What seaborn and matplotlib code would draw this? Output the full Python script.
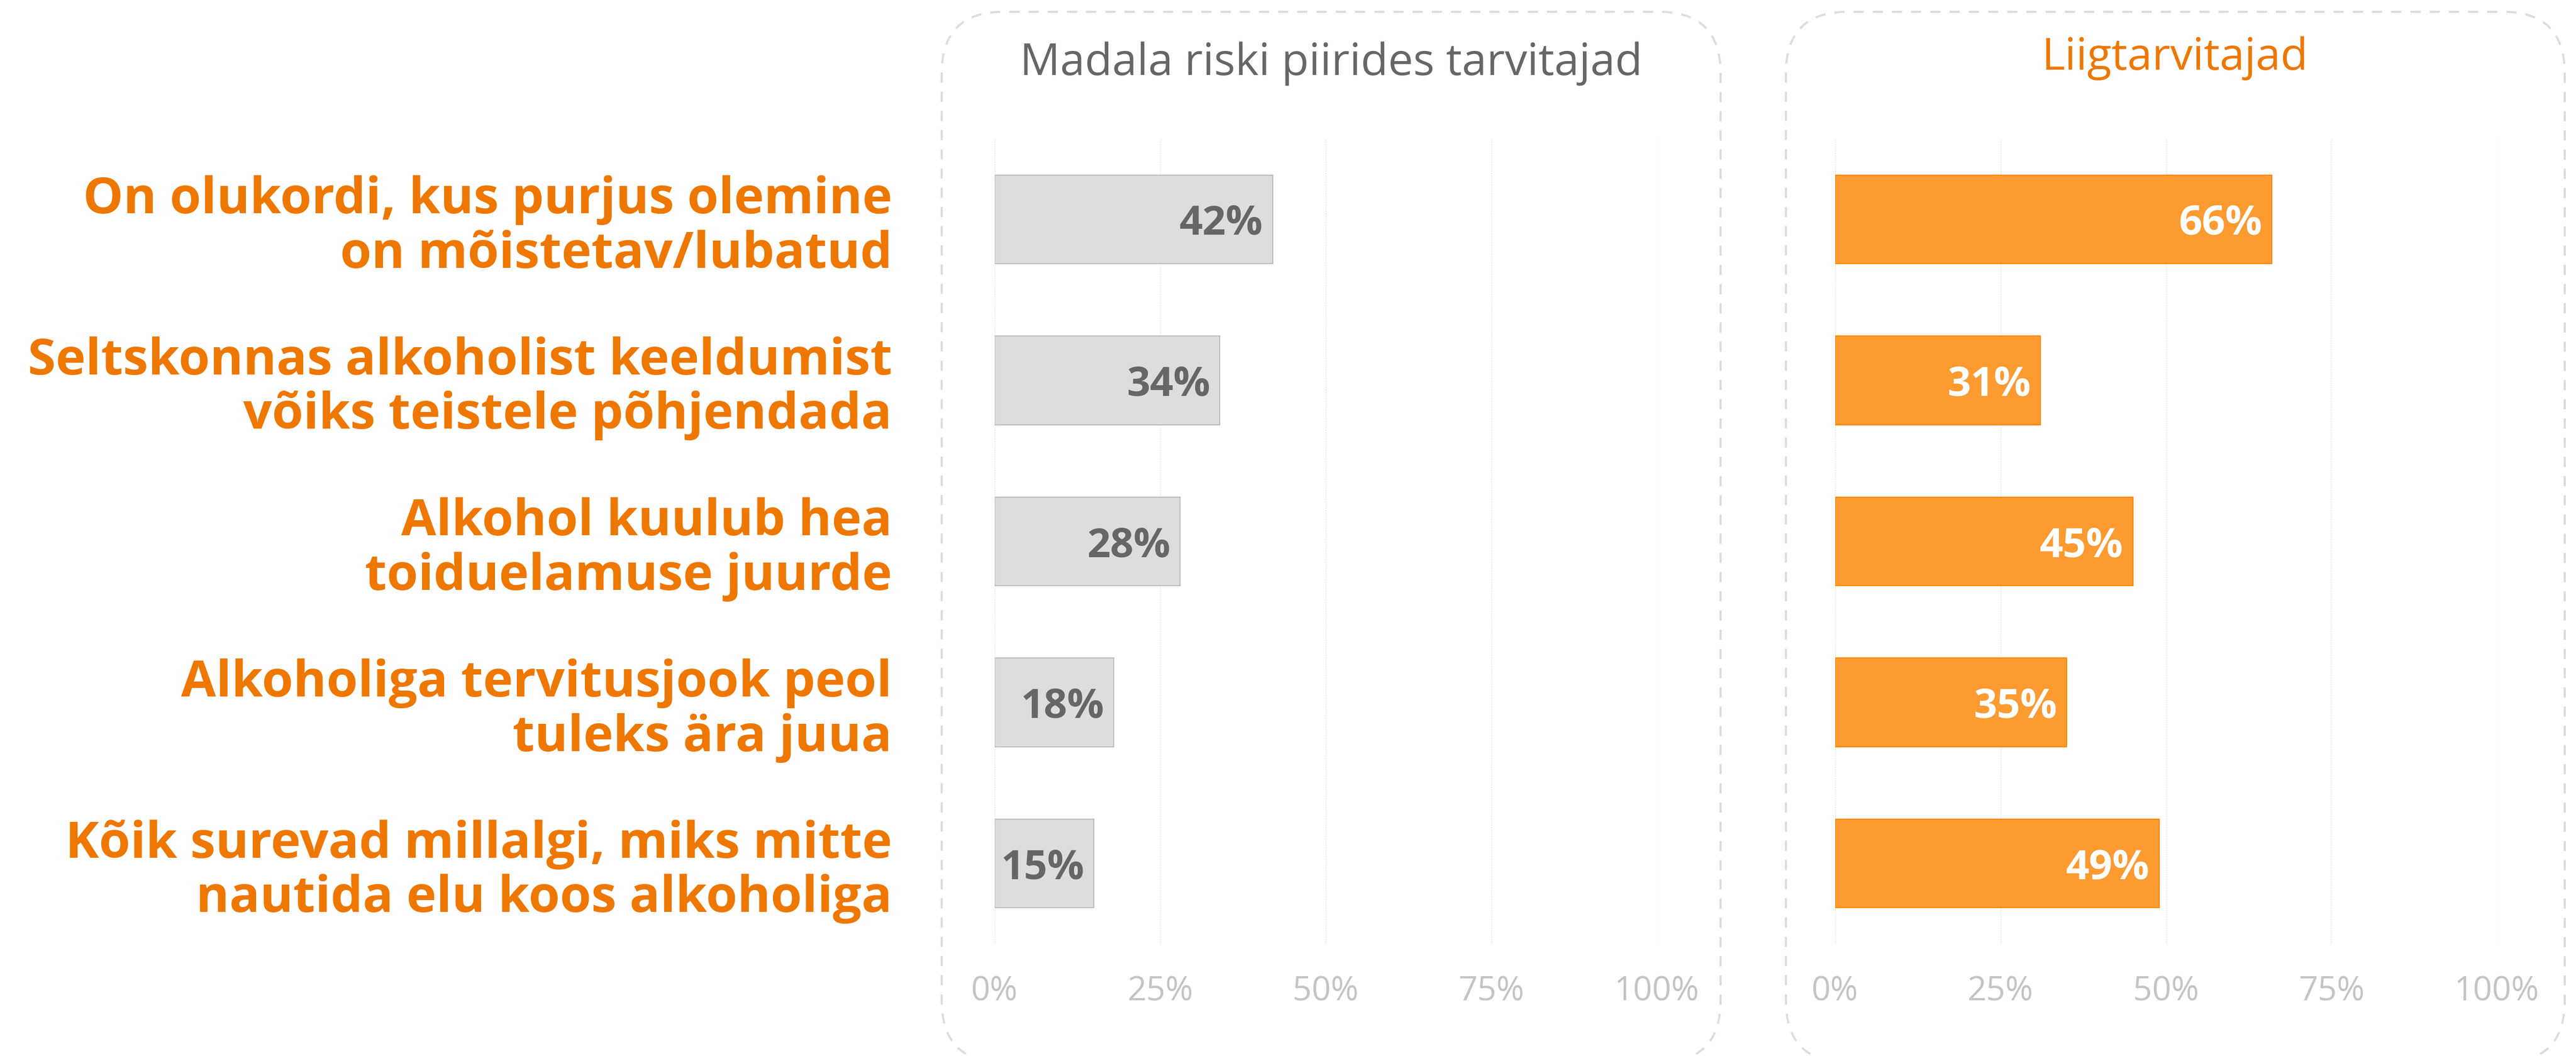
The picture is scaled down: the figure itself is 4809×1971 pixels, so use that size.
import numpy as np
import pandas as pd
import matplotlib
matplotlib.use("Agg")
import matplotlib.pyplot as plt
from matplotlib.patches import FancyBboxPatch
from matplotlib.transforms import IdentityTransform
import seaborn as sns

# Data
statements = [
    "On olukordi, kus purjus olemine\non mõistetav/lubatud",
    "Seltskonnas alkoholist keeldumist\nvõiks teistele põhjendada",
    "Alkohol kuulub hea\ntoiduelamuse juurde",
    "Alkoholiga tervitusjook peol\ntuleks ära juua",
    "Kõik surevad millalgi, miks mitte\nnautida elu koos alkoholiga",
]
low_risk = [42, 34, 28, 18, 15]
heavy = [66, 31, 45, 35, 49]
panel_titles = ["Madala riski piirides tarvitajad", "Liigtarvitajad"]
ticks = [0, 25, 50, 75, 100]
tick_labels = ["0%", "25%", "50%", "75%", "100%"]

ORANGE = "#EE7700"
GREY_TXT = "#666666"

sns.set_style("white")
plt.rcParams["font.family"] = ["Open Sans", "DejaVu Sans"]

W, H = 4809, 1971
fig = plt.figure(figsize=(W / 100, H / 100), dpi=100)

def px_axes(x0, x1, ytop, ybot):
    return fig.add_axes([x0 / W, (H - ybot) / H, (x1 - x0) / W, (ybot - ytop) / H])

# rounded dashed panel frames (pixel coords)
for bx0, bx1 in [(1758, 3212), (3334, 4788)]:
    frame = FancyBboxPatch((bx0, -12), bx1 - bx0, H - 22 + 12,
                           boxstyle="round,pad=0,rounding_size=115",
                           transform=IdentityTransform(), fill=False,
                           edgecolor="#dddddd", linewidth=2.9,
                           linestyle=(0, (4.7, 4.2)))
    fig.patches.append(frame)

ax1 = px_axes(1857, 3093, 259, 1762)
ax2 = px_axes(3426, 4661, 259, 1762)

df1 = pd.DataFrame({"label": statements, "value": low_risk})
df2 = pd.DataFrame({"label": statements, "value": heavy})

sns.barplot(data=df1, x="value", y="label", ax=ax1, orient="h", width=0.55,
            color="#DEDDDC", edgecolor="#BFBEBD", linewidth=1.5, saturation=1)
sns.barplot(data=df2, x="value", y="label", ax=ax2, orient="h", width=0.55,
            color="#FD9A30", edgecolor="#FF8A00", linewidth=1.5, saturation=1)

for ax, txtcol in [(ax1, GREY_TXT), (ax2, "white")]:
    ax.set_xlim(0, 100)
    ax.set_ylim(4.5, -0.5)
    ax.set_xticks(ticks)
    ax.set_xticklabels(tick_labels)
    ax.set_xlabel("")
    ax.set_ylabel("")
    for s in ax.spines.values():
        s.set_visible(False)
    ax.grid(axis="x", color="#dfe4ea", linestyle=(0, (1.5, 1.5)), linewidth=1.0)
    ax.grid(axis="y", visible=False)
    ax.set_axisbelow(True)
    ax.tick_params(axis="x", length=0, pad=42, labelsize=45, labelcolor="#c4c4c4")
    ax.tick_params(axis="y", length=0)
    for p in ax.patches:
        w = p.get_width()
        yc = p.get_y() + p.get_height() / 2
        ax.annotate(f"{w:.0f}%", (w, yc), xytext=(-13, 0), textcoords="offset points",
                    ha="right", va="center_baseline", fontsize=55, fontweight="bold",
                    color=txtcol)

ax1.tick_params(axis="y", pad=138, labelsize=68, labelcolor=ORANGE)
for t in ax1.get_yticklabels():
    t.set_fontweight("bold")
    t.set_multialignment("right")
    t.set_linespacing(1.12)
ax2.set_yticklabels([])

fig.text(2485 / W, 1 - 140 / H, panel_titles[0], ha="center", va="baseline",
         fontsize=60, color=GREY_TXT)
fig.text(4061 / W, 1 - 130 / H, panel_titles[1], ha="center", va="baseline",
         fontsize=60, color=ORANGE)

fig.savefig("out.png", dpi=100, facecolor="white")
